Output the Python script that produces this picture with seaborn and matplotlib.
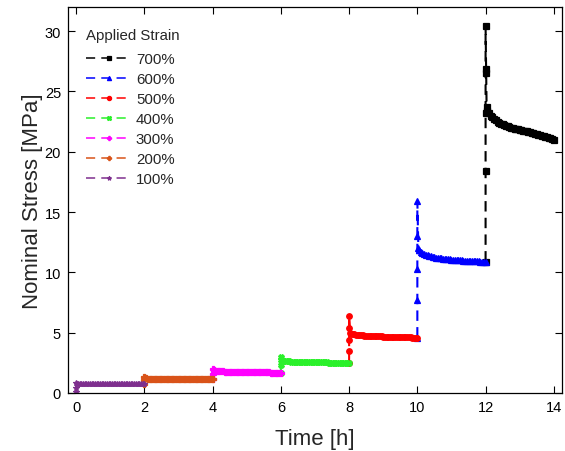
import matplotlib
matplotlib.use("Agg")
import matplotlib.pyplot as plt
import pandas as pd
import seaborn as sns

# Applied strain steps, each held for 2 h
strains = ["700%", "600%", "500%", "400%", "300%", "200%", "100%"]
hold_start_h = [12, 10, 8, 6, 4, 2, 0]
colors = ["#000000", "#0000ff", "#ff0000", "#2af02a", "#ff00ff", "#d95319", "#7e2f8e"]
marker_styles = ["s", "^", "o", "X", "P", "P", "*"]

# Stress recorded during each loading ramp (MPa)
ramp_700 = [10.9, 18.4, 23.2, 26.5, 26.9, 30.4]
ramp_600 = [4.6, 7.7, 10.3, 13.0, 15.9]
ramp_500 = [2.5, 3.45, 4.4, 5.4, 6.35]
ramp_400 = [1.68, 2.3, 2.75, 3.0]
ramp_300 = [1.12, 1.55, 2.0]
ramp_200 = [0.72, 1.05, 1.35]
ramp_100 = [0.1, 0.45, 0.85]

# Time into each hold (h)
hold_offset_h = [0.03, 0.05, 0.1, 0.15, 0.2, 0.25, 0.3, 0.35, 0.4, 0.45,
                 0.5, 0.55, 0.6, 0.65, 0.7, 0.75, 0.8, 0.85, 0.9, 0.95,
                 1.0, 1.05, 1.1, 1.15, 1.2, 1.25, 1.3, 1.35, 1.4, 1.45,
                 1.5, 1.55, 1.6, 1.65, 1.7, 1.75, 1.8, 1.85, 1.9, 1.95, 2.0]

# Stress relaxation during each hold (MPa)
relax_700 = [23.7, 23.4, 23.2, 23.0, 22.85, 22.7, 22.6, 22.5, 22.4, 22.33,
             22.26, 22.2, 22.15, 22.1, 22.05, 22.0, 21.96, 21.92, 21.88, 21.85,
             21.82, 21.78, 21.75, 21.72, 21.68, 21.65, 21.6, 21.57, 21.52, 21.48,
             21.45, 21.4, 21.35, 21.3, 21.27, 21.22, 21.2, 21.15, 21.1, 21.06, 21.0]
relax_600 = [12.0, 11.85, 11.7, 11.6, 11.52, 11.45, 11.4, 11.36, 11.32, 11.28,
             11.25, 11.22, 11.2, 11.18, 11.16, 11.14, 11.12, 11.1, 11.08, 11.07,
             11.05, 11.04, 11.03, 11.02, 11.01, 11.0, 10.99, 10.98, 10.97, 10.96,
             10.95, 10.94, 10.93, 10.93, 10.92, 10.92, 10.91, 10.9, 10.9, 10.89, 10.88]
relax_500 = [4.97, 4.92, 4.88, 4.85, 4.83, 4.81, 4.79, 4.78, 4.77, 4.76,
             4.75, 4.74, 4.73, 4.72, 4.72, 4.71, 4.7, 4.7, 4.69, 4.69,
             4.68, 4.68, 4.67, 4.67, 4.66, 4.66, 4.65, 4.65, 4.64, 4.64,
             4.63, 4.63, 4.62, 4.62, 4.62, 4.61, 4.61, 4.6, 4.6, 4.6, 4.6]
relax_400 = [2.7, 2.67, 2.65, 2.64, 2.63, 2.62, 2.61, 2.6, 2.6, 2.59,
             2.59, 2.58, 2.58, 2.57, 2.57, 2.56, 2.56, 2.56, 2.55, 2.55,
             2.55, 2.54, 2.54, 2.54, 2.53, 2.53, 2.53, 2.53, 2.52, 2.52,
             2.52, 2.52, 2.51, 2.51, 2.51, 2.51, 2.5, 2.5, 2.5, 2.5, 2.5]
relax_300 = [1.88, 1.85, 1.83, 1.82, 1.81, 1.8, 1.79, 1.78, 1.78, 1.77,
             1.77, 1.76, 1.76, 1.75, 1.75, 1.74, 1.74, 1.74, 1.73, 1.73,
             1.73, 1.72, 1.72, 1.72, 1.72, 1.71, 1.71, 1.71, 1.71, 1.7,
             1.7, 1.7, 1.7, 1.7, 1.69, 1.69, 1.69, 1.69, 1.69, 1.68, 1.68]
relax_200 = [1.23, 1.21, 1.2, 1.19, 1.19, 1.18, 1.18, 1.17, 1.17, 1.17,
             1.16, 1.16, 1.16, 1.16, 1.15, 1.15, 1.15, 1.15, 1.15, 1.14,
             1.14, 1.14, 1.14, 1.14, 1.14, 1.13, 1.13, 1.13, 1.13, 1.13,
             1.13, 1.13, 1.12, 1.12, 1.12, 1.12, 1.12, 1.12, 1.12, 1.12, 1.12]
relax_100 = [0.78, 0.77, 0.76, 0.76, 0.75, 0.75, 0.75, 0.74, 0.74, 0.74,
             0.74, 0.74, 0.73, 0.73, 0.73, 0.73, 0.73, 0.73, 0.73, 0.72,
             0.72, 0.72, 0.72, 0.72, 0.72, 0.72, 0.72, 0.72, 0.72, 0.72,
             0.72, 0.72, 0.72, 0.72, 0.72, 0.71, 0.71, 0.71, 0.71, 0.71, 0.71]

ramps = [ramp_700, ramp_600, ramp_500, ramp_400, ramp_300, ramp_200, ramp_100]
relaxations = [relax_700, relax_600, relax_500, relax_400, relax_300, relax_200, relax_100]

rows = []
for label, start, ramp, relax in zip(strains, hold_start_h, ramps, relaxations):
    for s in ramp:
        rows.append((label, start, s))
    for dt, s in zip(hold_offset_h, relax, strict=True):
        rows.append((label, start + dt, s))
df = pd.DataFrame(rows, columns=["Applied Strain", "Time [h]", "Nominal Stress [MPa]"])

sns.set_theme(style="white")
plt.rcParams["font.family"] = ["Liberation Sans", "DejaVu Sans"]

fig = plt.figure(figsize=(5.65, 4.52), dpi=100)
ax = fig.add_axes([68 / 565, 1 - 394 / 452, (562 - 68) / 565, (394 - 8) / 452])

palette = dict(zip(strains, colors))
markers = dict(zip(strains, marker_styles))
dashes = {s: (5, 3) for s in strains}

sns.lineplot(data=df, x="Time [h]", y="Nominal Stress [MPa]",
             hue="Applied Strain", style="Applied Strain",
             hue_order=strains, style_order=strains,
             palette=palette, markers=markers, dashes=dashes,
             sort=False, estimator=None, linewidth=1.5,
             markersize=4, markeredgewidth=0.9, markeredgecolor=None, ax=ax)

for line in ax.lines:
    c = line.get_color()
    line.set_markeredgecolor(c)
    line.set_markerfacecolor(c)

ax.set_xlim(-0.24, 14.24)
ax.set_ylim(0, 32)
ax.set_xticks(range(0, 15, 2))
ax.set_yticks(range(0, 31, 5))
ax.tick_params(direction="in", top=True, right=True, bottom=True, left=True,
               length=5, width=0.8, labelsize=10.5, colors="black", pad=5)
for sp in ax.spines.values():
    sp.set_color("black")
    sp.set_linewidth(0.9)

ax.set_xlabel("Time [h]", fontsize=16, labelpad=10)
ax.set_ylabel("Nominal Stress [MPa]", fontsize=16, labelpad=1.5)

sns.move_legend(ax, "upper left", bbox_to_anchor=(0.025, 0.962),
                title="Applied Strain", frameon=False, fontsize=10.8,
                title_fontsize=10.8, handlelength=3.0, handletextpad=0.3,
                labelspacing=0.4, borderaxespad=0.0, alignment="left")
leg = ax.get_legend()
leg._legend_box.sep = 7.5
for h in leg.legend_handles:
    c = h.get_color()
    h.set_markeredgecolor(c)
    h.set_markerfacecolor(c)
    h.set_markersize(3)
    h.set_linewidth(1.1)
    h.set_dashes((6, 4))

fig.savefig("out.png", dpi=100)
